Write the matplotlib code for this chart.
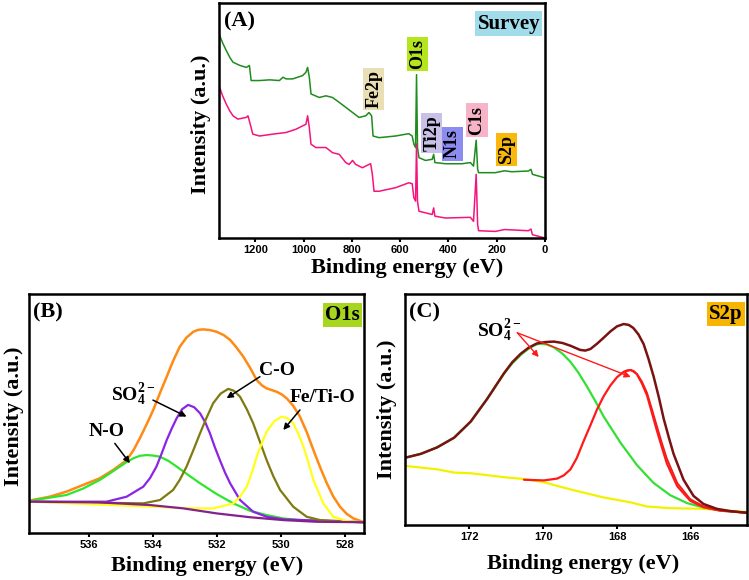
import matplotlib
matplotlib.use("Agg")
import matplotlib.pyplot as plt

plt.rcParams['font.family'] = ['Liberation Serif', 'DejaVu Serif']
plt.rcParams['mathtext.fontset'] = 'custom'
plt.rcParams['mathtext.rm'] = 'Liberation Serif:bold'
plt.rcParams['mathtext.it'] = 'Liberation Serif:bold:italic'
plt.rcParams['mathtext.bf'] = 'Liberation Serif:bold'

# ---------------- Panel A: survey spectra ----------------
survey_green_ev = [1350, 1335, 1320, 1305, 1292, 1265, 1237, 1224, 1217, 1182, 1140, 1100, 1085, 1072, 1045,
                   1004, 990, 983, 976, 969, 935, 907, 880, 852, 825, 797, 770, 742, 729, 718, 712, 687,
                   619, 564, 550, 543, 536, 532, 528, 522, 495, 467, 461, 456, 412, 344, 309, 296, 285,
                   279, 275, 206, 168, 138, 69, 58, 52, 28, 0]
survey_green_i = [86.9, 83.0, 79.8, 76.8, 74.8, 73.5, 72.6, 73.4, 67.0, 67.0, 67.3, 67.0, 68.4, 67.7, 67.7,
                  69.1, 70.5, 72.6, 68.4, 61.3, 59.8, 60.5, 59.8, 57.7, 55.6, 53.4, 51.3, 52.0, 53.4, 52.0,
                  43.4, 42.7, 43.4, 44.4, 43.4, 39.9, 38.5, 69.5, 38.5, 34.2, 33.0, 33.5, 35.6, 32.1, 31.6,
                  31.6, 32.1, 30.6, 41.6, 29.2, 27.8, 27.8, 28.6, 28.2, 28.5, 29.2, 27.1, 26.4, 25.6]
survey_pink_ev = [1350, 1335, 1320, 1305, 1292, 1272, 1237, 1230, 1217, 1210, 1182, 1127, 1072, 1031, 1004,
                  990, 983, 976, 969, 949, 907, 880, 852, 825, 811, 797, 784, 756, 729, 722, 715, 708,
                  687, 619, 564, 550, 543, 536, 532, 528, 522, 467, 461, 456, 412, 309, 296, 285, 279,
                  275, 206, 168, 69, 58, 52, 0]
survey_pink_i = [64.8, 60.5, 57.0, 54.0, 52.0, 50.6, 51.3, 52.0, 47.0, 44.2, 43.4, 44.2, 44.9, 46.3, 47.7,
                 48.4, 52.0, 47.0, 39.9, 38.5, 38.5, 36.3, 35.6, 32.1, 31.3, 33.0, 31.3, 29.9, 31.3, 31.6,
                 27.1, 19.9, 19.9, 21.4, 23.5, 23.1, 17.1, 15.7, 40.0, 15.7, 11.4, 10.0, 12.8, 9.3, 8.5,
                 8.8, 7.1, 27.1, 5.7, 3.1, 2.8, 3.6, 3.1, 3.8, 1.4, 0.0]
survey_peaks = ['Fe2p', 'O1s', 'Ti2p', 'N1s', 'C1s', 'S2p']
survey_peak_ev = [709, 528, 469, 384, 282, 159]
survey_peak_i = [63.3, 78.2, 44.5, 40.0, 50.2, 37.6]
survey_peak_colors = ['#eadfb4', '#b5e61d', '#c8c0e6', '#8c8cf0', '#f7b3c8', '#f8b90c']
survey_ticks = [1200, 1000, 800, 600, 400, 200, 0]

# ---------------- Panel B: O1s ----------------
o1s_env_ev = [537.88, 537.23, 536.71, 536.19, 535.67, 535.25, 534.83, 534.62, 534.42, 534.21, 534.00,
              533.79, 533.58, 533.38, 533.17, 532.96, 532.75, 532.60, 532.44, 532.23, 532.02, 531.80,
              531.60, 531.40, 531.19, 530.98, 530.77, 530.61, 530.46, 530.30, 530.15, 529.99, 529.83,
              529.63, 529.42, 529.21, 529.00, 528.79, 528.58, 528.38, 528.17, 527.96, 527.75, 527.42]
o1s_env_i = [13.5, 15.2, 17.3, 20.1, 22.9, 26.4, 30.5, 34.6, 39.6, 45.4, 51.5, 58.6, 65.4, 72.0, 78.0,
             81.8, 84.2, 85.0, 85.2, 84.9, 84.2, 82.8, 80.8, 77.6, 73.8, 69.2, 64.0, 61.8, 60.5, 59.8,
             59.1, 58.0, 56.3, 53.2, 48.7, 42.3, 34.7, 27.5, 20.8, 15.3, 11.0, 8.0, 6.1, 4.5]
o1s_bg_ev = [537.88, 535.67, 534.10, 533.06, 532.02, 530.98, 529.94, 528.90, 527.42]
o1s_bg_i = [13.1, 12.8, 11.7, 10.3, 8.2, 6.6, 5.4, 4.7, 4.5]
o1s_no_ev = [537.88, 536.71, 536.19, 535.67, 535.35, 535.04, 534.83, 534.63, 534.42, 534.21, 534.00,
             533.79, 533.53, 533.27, 532.90, 532.54, 532.02, 531.50, 530.98, 530.46, 529.94, 529.42, 527.42]
o1s_no_i = [13.4, 15.9, 18.6, 22.2, 25.0, 27.8, 29.7, 31.2, 32.3, 32.6, 32.4, 31.9, 30.2, 27.8, 24.2,
            20.8, 16.3, 12.4, 9.3, 7.5, 6.1, 5.4, 4.5]
o1s_so4_ev = [537.88, 535.46, 534.83, 534.31, 534.10, 533.90, 533.74, 533.58, 533.42, 533.27, 533.10,
              532.91, 532.72, 532.54, 532.38, 532.23, 532.08, 531.92, 531.76, 531.60, 531.29, 530.88,
              530.46, 529.94, 527.42]
o1s_so4_i = [13.1, 13.1, 15.2, 19.4, 23.0, 27.8, 33.2, 38.9, 43.8, 48.0, 51.8, 53.6, 52.6, 50.1, 46.4,
             41.7, 36.0, 30.5, 25.3, 20.8, 13.8, 8.9, 6.8, 5.7, 4.5]
o1s_co_ev = [537.88, 534.31, 533.79, 533.38, 533.17, 532.96, 532.75, 532.54, 532.33, 532.13, 531.90,
             531.66, 531.48, 531.29, 531.08, 530.88, 530.67, 530.46, 530.25, 530.04, 529.63, 529.21,
             528.79, 527.42]
o1s_co_i = [13.1, 12.4, 13.8, 18.0, 22.3, 27.8, 34.6, 41.7, 48.4, 54.3, 58.3, 60.3, 59.5, 57.0, 51.8,
            45.9, 38.2, 30.5, 23.7, 18.0, 11.0, 6.8, 5.4, 4.5]
o1s_feti_ev = [537.88, 532.75, 532.13, 531.50, 531.29, 531.08, 530.92, 530.77, 530.61, 530.46, 530.22,
               529.99, 529.81, 529.63, 529.47, 529.31, 529.15, 529.00, 528.69, 528.38, 527.96, 527.42]
o1s_feti_i = [13.1, 10.3, 10.3, 12.4, 15.2, 19.4, 25.3, 31.9, 37.6, 42.4, 46.8, 48.7, 48.0, 45.9, 41.5,
              36.1, 29.2, 22.2, 12.4, 6.8, 5.0, 4.5]
o1s_ticks = [536, 534, 532, 530, 528]

# ---------------- Panel C: S2p ----------------
s2p_env_ev = [173.74, 173.31, 172.87, 172.41, 171.96, 171.52, 171.06, 170.84, 170.61, 170.39, 170.17,
              169.94, 169.71, 169.48, 169.26, 169.00, 168.86, 168.72, 168.54, 168.36, 168.18, 168.00,
              167.82, 167.68, 167.56, 167.42, 167.28, 167.15, 167.01, 166.87, 166.74, 166.60, 166.47,
              166.20, 165.93, 165.66, 165.30, 164.93, 164.49]
s2p_env_i = [29.1, 30.8, 33.6, 37.8, 44.8, 54.5, 65.7, 70.4, 74.1, 76.8, 78.6, 79.2, 79.4, 78.8, 77.6,
             75.8, 75.5, 76.2, 78.5, 81.1, 83.8, 86.0, 87.0, 86.6, 85.3, 82.5, 78.3, 72.0, 64.3, 55.4,
             46.2, 38.0, 30.8, 19.6, 12.6, 9.1, 7.0, 6.0, 5.3]
s2p_green_ev = [173.74, 173.31, 172.87, 172.41, 171.96, 171.52, 171.06, 170.84, 170.61, 170.39, 170.21,
                170.08, 169.89, 169.71, 169.48, 169.26, 169.04, 168.82, 168.59, 168.36, 167.91, 167.46,
                167.01, 166.56, 166.11, 165.66, 165.21, 164.49]
s2p_green_i = [29.1, 30.8, 33.6, 37.8, 44.8, 54.5, 65.5, 69.9, 73.6, 76.4, 78.0, 78.5, 78.1, 76.9, 74.2,
               70.6, 65.8, 60.1, 53.7, 46.9, 35.7, 25.9, 18.2, 12.9, 9.5, 7.6, 6.3, 5.3]
s2p_red_ev = [170.52, 169.98, 169.62, 169.44, 169.26, 169.09, 168.91, 168.72, 168.54, 168.36, 168.18,
              168.00, 167.82, 167.73, 167.63, 167.54, 167.46, 167.33, 167.19, 167.06, 166.92, 166.78,
              166.65, 166.37, 166.02, 165.66, 165.21, 164.49]
s2p_red_i = [19.6, 19.3, 20.1, 21.5, 24.1, 29.0, 36.1, 43.2, 50.1, 55.8, 60.4, 64.0, 66.3, 66.9, 67.1,
             66.5, 65.2, 61.4, 56.2, 48.8, 40.8, 33.3, 26.6, 16.8, 10.5, 7.7, 6.2, 5.3]
s2p_red2_ev = [167.82, 167.63, 167.46, 167.33, 167.19, 167.06, 166.92, 166.78, 166.65, 166.37, 166.02,
               165.66, 165.21, 164.49]
s2p_red2_i = [66.3, 67.1, 65.4, 62.2, 57.3, 50.4, 42.7, 35.2, 28.7, 18.2, 11.2, 8.1, 6.4, 5.3]
s2p_bg_ev = [173.74, 172.87, 172.41, 171.96, 171.06, 170.52, 169.98, 169.26, 168.36, 167.63, 167.19,
             166.56, 165.66, 164.49]
s2p_bg_i = [25.6, 24.1, 22.7, 22.4, 20.7, 19.9, 18.5, 15.4, 11.9, 9.8, 8.0, 7.3, 7.0, 5.6]
s2p_ticks = [172, 170, 168, 166]

W, H = 749, 580
fig = plt.figure(figsize=(W / 100, H / 100), dpi=100)


def px_axes(l, t, r, b):
    return fig.add_axes([l / W, 1 - b / H, (r - l) / W, (b - t) / H])


def style(ax, ticks):
    for s in ax.spines.values():
        s.set_linewidth(1.8)
        s.set_color('black')
    ax.set_yticks([])
    ax.set_xticks(ticks)
    ax.tick_params(axis='x', direction='out', length=3, width=1.5, pad=2)
    for lab in ax.get_xticklabels():
        lab.set_fontfamily('Liberation Sans')
        lab.set_fontweight('bold')
        lab.set_fontsize(8)


TXT = dict(fontweight='bold', color='black')
LINE = dict(solid_joinstyle='round', solid_capstyle='round')

# ---- A ----
axA = px_axes(219, 3, 545, 238)
axA.plot(survey_green_ev, survey_green_i, color='#1e8c1e', lw=1.1, **LINE)
axA.plot(survey_pink_ev, survey_pink_i, color='#f5147c', lw=1.1, **LINE)
axA.set_xlim(1350, 0)
axA.set_ylim(0, 100)
style(axA, survey_ticks)
for name, x, y, c in zip(survey_peaks, survey_peak_ev, survey_peak_i, survey_peak_colors):
    axA.text(x, y, name, rotation=90, ha='center', va='center', fontsize=13, **TXT,
             bbox=dict(boxstyle='square,pad=0.12', fc=c, ec='none'))
axA.text(0.015, 0.965, '(A)', transform=axA.transAxes, ha='left', va='top', fontsize=16, **TXT)
axA.text(0.985, 0.955, 'Survey', transform=axA.transAxes, ha='right', va='top', fontsize=15, **TXT,
         bbox=dict(boxstyle='square,pad=0.1', fc='#a0dcea', ec='none'))
fig.text(201 / W, 1 - 124 / H, 'Intensity (a.u.)', rotation=90, ha='center', va='center', fontsize=16, **TXT)
fig.text(407 / W, 1 - 268 / H, 'Binding energy (eV)', ha='center', va='center', fontsize=16, **TXT)

# ---- B ----
axB = px_axes(29, 294, 364, 533)
axB.plot(o1s_env_ev, o1s_env_i, color='#ff8a14', lw=1.8, **LINE)
axB.plot(o1s_no_ev, o1s_no_i, color='#2ee62e', lw=1.6, **LINE)
axB.plot(o1s_so4_ev, o1s_so4_i, color='#8a24e6', lw=1.6, **LINE)
axB.plot(o1s_co_ev, o1s_co_i, color='#7f7a10', lw=1.6, **LINE)
axB.plot(o1s_feti_ev, o1s_feti_i, color='#ffff1a', lw=1.6, **LINE)
axB.plot(o1s_bg_ev, o1s_bg_i, color='#85208f', lw=1.6, **LINE)
axB.set_xlim(537.88, 527.42)
axB.set_ylim(0, 100)
style(axB, o1s_ticks)
axB.text(0.012, 0.965, '(B)', transform=axB.transAxes, ha='left', va='top', fontsize=16, **TXT)
axB.text(0.988, 0.955, 'O1s', transform=axB.transAxes, ha='right', va='top', fontsize=15, **TXT,
         bbox=dict(boxstyle='square,pad=0.1', fc='#a6d61e', ec='none'))
arrow_k = dict(arrowstyle='-|>', color='black', lw=1.1, mutation_scale=9, shrinkA=0, shrinkB=0)
axB.text(535.46, 42.4, 'N-O', ha='center', va='center', fontsize=14, **TXT)
axB.annotate('', xy=(534.73, 29.2), xytext=(535.2, 37.5), arrowprops=arrow_k)
axB.text(534.63, 57.7, r'SO$_4^{2-}$', ha='center', va='center', fontsize=14, **TXT)
axB.annotate('', xy=(532.96, 48.7), xytext=(534.01, 55.6), arrowprops=arrow_k)
axB.text(530.14, 68.2, 'C-O', ha='center', va='center', fontsize=14, **TXT)
axB.annotate('', xy=(531.71, 56.4), xytext=(530.67, 65.4), arrowprops=arrow_k)
axB.text(528.73, 56.5, 'Fe/Ti-O', ha='center', va='center', fontsize=14, **TXT)
axB.annotate('', xy=(529.94, 43.1), xytext=(529.42, 51.5), arrowprops=arrow_k)
fig.text(14 / W, 1 - 416 / H, 'Intensity (a.u.)', rotation=90, ha='center', va='center', fontsize=16, **TXT)
fig.text(207 / W, 1 - 566 / H, 'Binding energy (eV)', ha='center', va='center', fontsize=16, **TXT)

# ---- C ----
axC = px_axes(405, 294, 746.7, 525)
axC.plot(s2p_bg_ev, s2p_bg_i, color='#f2f200', lw=1.6, **LINE)
axC.plot(s2p_green_ev, s2p_green_i, color='#33e033', lw=1.6, **LINE)
axC.plot(s2p_red2_ev, s2p_red2_i, color='#ee1c1c', lw=1.3, **LINE)
axC.plot(s2p_red_ev, s2p_red_i, color='#ff1a1a', lw=1.6, **LINE)
axC.plot(s2p_env_ev, s2p_env_i, color='#7a1212', lw=1.8, **LINE)
axC.set_xlim(173.74, 164.49)
axC.set_ylim(0, 100)
style(axC, s2p_ticks)
axC.text(0.012, 0.965, '(C)', transform=axC.transAxes, ha='left', va='top', fontsize=16, **TXT)
axC.text(0.988, 0.955, 'S2p', transform=axC.transAxes, ha='right', va='top', fontsize=15, **TXT,
         bbox=dict(boxstyle='square,pad=0.1', fc='#f7b500', ec='none'))
axC.text(171.20, 84.2, r'SO$_4^{2-}$', ha='center', va='center', fontsize=14, **TXT)
arrow_r = dict(arrowstyle='-|>', color='#ff1a1a', lw=1.0, mutation_scale=9, shrinkA=0, shrinkB=0)
axC.annotate('', xy=(170.12, 72.7), xytext=(170.70, 83.2), arrowprops=arrow_r)
axC.annotate('', xy=(167.63, 64.1), xytext=(170.70, 83.2), arrowprops=arrow_r)
fig.text(387 / W, 1 - 409 / H, 'Intensity (a.u.)', rotation=90, ha='center', va='center', fontsize=16, **TXT)
fig.text(583 / W, 1 - 564 / H, 'Binding energy (eV)', ha='center', va='center', fontsize=16, **TXT)

fig.savefig('out.png', dpi=100)
